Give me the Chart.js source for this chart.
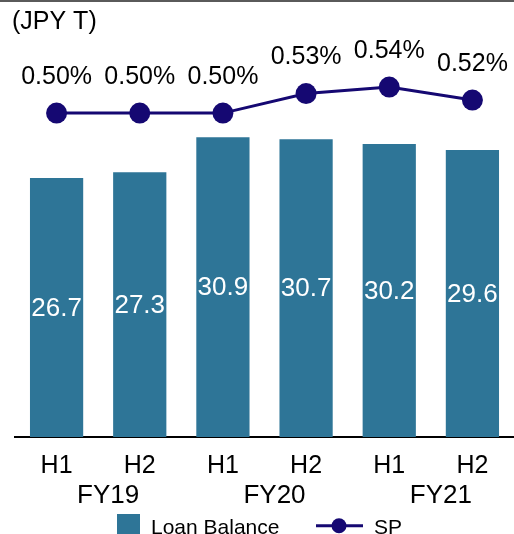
<!DOCTYPE html>
<html>
<head>
<meta charset="utf-8">
<script src="https://cdn.jsdelivr.net/npm/chart.js@4"></script>
<style>
    html, body { margin: 0; padding: 0; background: #fff; overflow: hidden; }
    #wrap { width: 514px; height: 532px; border-top: 2px solid #5a5a5a; }
    canvas { display: block; }
</style>
</head>
<body>
<div id="wrap"><canvas id="loanChart" width="514" height="532"></canvas></div>
<script>
// -------------------- DATA --------------------
const halfLabels = ["H1", "H2", "H1", "H2", "H1", "H2"];
const fiscalYears = ["FY19", "FY20", "FY21"];
const loanBalance = [26.7, 27.3, 30.9, 30.7, 30.2, 29.6];
const spRatio = [0.50, 0.50, 0.50, 0.53, 0.54, 0.52];

// -------------------- STYLE --------------------
const barColor = "#2e7597";
const lineColor = "#150872";
const fontFamily = "'Liberation Sans', Arial, sans-serif";

// -------------------- LABELS + LEGEND --------------------
const labelPlugin = {
    id: "labelPlugin",

    afterDatasetsDraw(chart) {
        const { ctx } = chart;
        ctx.save();
        ctx.textAlign = "center";
        ctx.textBaseline = "middle";

        // values inside bars
        const barMeta = chart.getDatasetMeta(1);
        ctx.fillStyle = "#fff";
        ctx.font = "26px " + fontFamily;
        barMeta.data.forEach((bar, i) => {
            ctx.fillText(loanBalance[i].toFixed(1), bar.x, (bar.y + bar.base) / 2 + 1);
        });

        // percentages over the line
        const lineMeta = chart.getDatasetMeta(0);
        ctx.fillStyle = "#000";
        ctx.font = "25px " + fontFamily;
        lineMeta.data.forEach((pt, i) => {
            ctx.fillText(spRatio[i].toFixed(2) + "%", pt.x, pt.y - 36);
        });
        ctx.restore();
    },

    afterDraw(chart) {
        const { ctx } = chart;
        ctx.save();
        ctx.fillStyle = barColor;
        ctx.fillRect(117, 512, 23, 23);

        ctx.fillStyle = "#000";
        ctx.font = "21px " + fontFamily;
        ctx.textBaseline = "alphabetic";
        ctx.textAlign = "left";
        ctx.fillText("Loan Balance", 151, 531.5);
        ctx.fillText("SP", 374, 531.5);

        ctx.strokeStyle = lineColor;
        ctx.lineWidth = 3;
        ctx.beginPath();
        ctx.moveTo(316, 523.7);
        ctx.lineTo(363, 523.7);
        ctx.stroke();
        ctx.fillStyle = lineColor;
        ctx.beginPath();
        ctx.arc(339, 523.7, 7.5, 0, Math.PI * 2);
        ctx.fill();
        ctx.restore();
    }
};

// no side padding from tick labels, so the plot runs to the right edge
function fitX(height) {
    return (s) => {
        s.height = height;
        s.paddingLeft = 0;
        s.paddingRight = 0;
    };
}

// -------------------- BUILD CHART --------------------
new Chart(document.getElementById("loanChart"), {
    type: "bar",
    plugins: [labelPlugin],
    data: {
        labels: halfLabels,
        datasets: [
            {
                type: "line",
                label: "SP",
                data: spRatio,
                yAxisID: "y2",
                order: 0,
                borderColor: lineColor,
                borderWidth: 3,
                backgroundColor: lineColor,
                pointBackgroundColor: lineColor,
                pointBorderWidth: 0,
                pointRadius: 10.5,
                tension: 0
            },
            {
                label: "Loan Balance",
                data: loanBalance,
                yAxisID: "y",
                order: 1,
                backgroundColor: barColor,
                barPercentage: 0.64,
                categoryPercentage: 1
            }
        ]
    },
    options: {
        responsive: false,
        animation: false,
        layout: {
            autoPadding: false,
            padding: { left: 12, right: 0, top: 0, bottom: 25 }
        },
        plugins: {
            legend: { display: false },
            tooltip: { enabled: false },
            title: {
                display: true,
                text: "(JPY T)",
                align: "start",
                color: "#000",
                font: { family: fontFamily, size: 25, weight: "normal" },
                padding: { top: 5, bottom: 0 }
            }
        },
        scales: {
            x: {
                type: "category",
                position: "bottom",
                weight: 0,
                grid: { display: false },
                border: { display: true, color: "#000", width: 2 },
                ticks: {
                    color: "#000",
                    font: { family: fontFamily, size: 25 },
                    padding: 6,
                    maxRotation: 0,
                    autoSkip: false
                },
                afterFit: fitX(38)
            },
            x2: {
                type: "category",
                labels: fiscalYears,
                position: "bottom",
                weight: 1,
                offset: true,
                grid: { display: false },
                border: { display: false },
                ticks: {
                    color: "#000",
                    font: { family: fontFamily, size: 26 },
                    padding: -3,
                    labelOffset: 10,
                    maxRotation: 0,
                    autoSkip: false
                },
                afterFit: fitX(34)
            },
            y: {
                position: "left",
                min: 0,
                max: 41.24,
                grid: { display: false },
                border: { display: false },
                ticks: { display: false },
                afterFit: (s) => { s.width = 3; }
            },
            y2: {
                position: "right",
                display: false,
                min: 0.002,
                max: 0.617
            }
        }
    }
});
</script>
</body>
</html>
